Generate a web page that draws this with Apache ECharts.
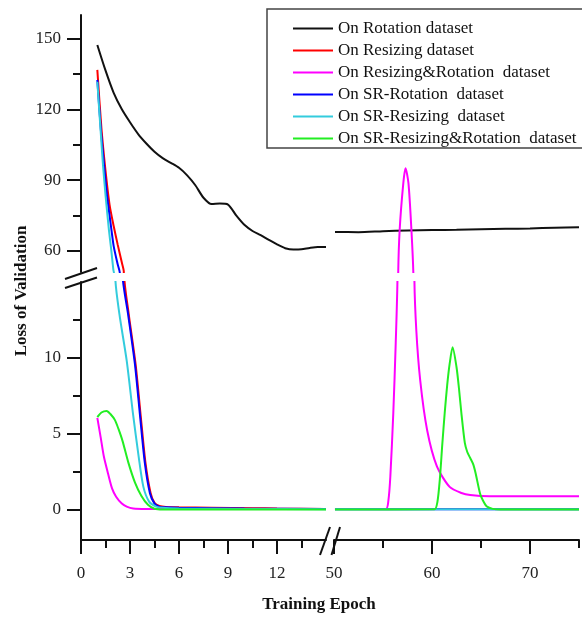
<!DOCTYPE html>
<html>
<head>
<meta charset="utf-8">
<script src="https://cdn.jsdelivr.net/npm/echarts@6/dist/echarts.min.js"></script>
<style>
html,body{margin:0;padding:0;background:#fff;}
#chart{width:582px;height:618px;}
</style>
</head>
<body>
<div id="chart"></div>
<script>
// ---- Data (epoch, validation loss) ----
const seriesNames = [
  'On Rotation dataset',
  'On Resizing dataset',
  'On Resizing&Rotation  dataset',
  'On SR-Rotation  dataset',
  'On SR-Resizing  dataset',
  'On SR-Resizing&Rotation  dataset'
];

const rotationLeft = [[1,147.3],[1.5,136.5],[2,127],[2.5,120],[3,114.5],[3.5,109.5],[4,105.5],[4.5,102],[5,99.3],[5.5,97.3],[6,95.2],[6.5,92],[7,87.8],[7.5,82.5],[8,79.8],[8.5,80],[9,79.6],[9.5,75],[10,71],[10.5,68.4],[11,66.6],[11.5,64.6],[12,62.7],[12.5,61.1],[13,60.5],[13.5,60.6],[14,61.2],[14.5,61.6],[15,61.6]];
const rotationRight = [[50.1,68],[52.5,67.9],[55,68.3],[57.5,68.6],[60,68.8],[62.5,68.9],[65,69.1],[67.5,69.3],[70,69.5],[72.5,69.8],[75,70]];

const resizingLeft = [[1,136.7],[1.25,112],[1.5,94],[1.75,79.5],[2,70.5],[2.25,62.5],[2.5,55],[2.62,51.2],[2.64,15.5],[2.92,12.9],[3.34,9.6],[3.64,6.35],[3.95,3.06],[4.26,1.1],[4.5,0.45],[4.8,0.25],[5.2,0.18],[6,0.15],[8,0.13],[10.5,0.1],[12,0.07],[15,0.05]];
const resizingRight = [[50.1,0.05],[75,0.05]];

const resRotLeft = [[1,6.05],[1.2,4.8],[1.4,3.5],[1.65,2.4],[1.9,1.4],[2.15,0.85],[2.5,0.4],[2.8,0.2],[3.2,0.08],[4,0.05],[15,0.04]];
const resRotRight = [[50.1,0.04],[55.3,0.05],[55.55,0.6],[55.75,2.2],[56.05,6.35],[56.3,11],[56.48,15.5],[56.55,50],[56.7,68.8],[57.07,88.6],[57.3,95],[57.6,88.6],[57.9,68.8],[58.1,50],[58.2,15.5],[58.4,11.8],[58.8,8.5],[59.5,5.25],[60.5,2.85],[61.8,1.5],[63.0,1.1],[63.9,0.96],[65.9,0.88],[75,0.88]];

const srRotationLeft = [[1,132.5],[1.22,111],[1.5,90],[1.6,83],[1.88,68],[2.0,62],[2.23,54.7],[2.38,50.5],[2.54,15.5],[2.88,12.9],[3.3,9.6],[3.6,6.35],[3.91,3.06],[4.22,1.08],[4.5,0.4],[4.8,0.2],[5.2,0.15],[6,0.12],[10,0.08],[15,0.05]];
const srRotationRight = [[50.1,0.03],[75,0.03]];

const srResizingLeft = [[1,131.7],[1.2,111],[1.35,96],[1.51,83],[1.71,68.8],[1.85,60.5],[1.98,52],[2.02,50.5],[2.1,15.3],[2.35,12.9],[2.8,9.8],[3.18,6.35],[3.53,3.5],[3.82,1.5],[4.17,0.53],[4.6,0.2],[5,0.12],[6,0.08],[10,0.05],[15,0.03]];
const srResizingRight = [[50.1,0.02],[75,0.02]];

const srResRotLeft = [[1,6.1],[1.25,6.4],[1.57,6.5],[1.8,6.3],[2.08,5.9],[2.3,5.3],[2.55,4.5],[2.9,3.1],[3.3,1.8],[3.7,0.9],[4.1,0.32],[4.5,0.06],[5,0.01],[15,0.01]];
const srResRotRight = [[50.1,0.01],[60.25,0.02],[60.55,0.5],[60.8,2],[61.05,4.3],[61.3,6.4],[61.55,8.2],[61.8,9.6],[62.1,10.7],[62.5,9.4],[62.75,8],[63.0,6.35],[63.35,4.4],[63.6,3.8],[63.9,3.4],[64.2,3.0],[64.45,2.4],[64.9,1.07],[65.2,0.6],[65.6,0.2],[66.2,0.05],[67,0.01],[75,0.01]];

const seriesColors = ['#111111','#ff0000','#ff00ff','#0000ff','#33ccdd','#22ee22'];
const leftData = [rotationLeft, resizingLeft, resRotLeft, srRotationLeft, srResizingLeft, srResRotLeft];
const rightData = [rotationRight, resizingRight, resRotRight, srRotationRight, srResizingRight, srResRotRight];

// tick labels
const xLeftTicks = [0,3,6,9,12];
const xLeftMinor = [1.5,4.5,7.5,10.5,13.5];
const xRightTicks = [50,60,70];
const xRightMinor = [55,65,75];
const yTopTicks = [60,90,120,150];
const yTopMinor = [75,105,135];
const yBottomTicks = [0,5,10];
const yBottomMinor = [2.5,7.5,12.5];

// ---- Chart ----
const FONT = 'Liberation Serif';
const lbl = {fontFamily: FONT, fontSize: 17, color: '#222'};
const axLine = {show: true, onZero: false, lineStyle: {color: '#111', width: 2}};

function majorAxis(gridIndex, min, max, ticks, isY) {
  return {
    type: 'value', gridIndex, min, max,
    position: isY ? 'left' : 'bottom',
    splitLine: {show: false},
    axisLine: axLine,
    axisTick: {show: true, customValues: ticks, length: 14, lineStyle: {color: '#111', width: 2}},
    axisLabel: Object.assign({show: true, customValues: ticks, margin: isY ? 20 : 25}, lbl)
  };
}
function minorAxis(gridIndex, min, max, ticks, pos) {
  return {
    type: 'value', gridIndex, min, max, position: pos,
    splitLine: {show: false},
    axisLine: {show: false, onZero: false},
    axisTick: {show: true, customValues: ticks, length: 8, lineStyle: {color: '#111', width: 2}},
    axisLabel: {show: false}
  };
}
function hiddenAxis(gridIndex, min, max) {
  return {type: 'value', gridIndex, min, max, show: false, splitLine: {show: false}, axisLine: {onZero: false}};
}

const grids = [
  {left: 81, top: 15, width: 245, height: 257},
  {left: 334, top: 15, width: 245, height: 257},
  {left: 81, top: 282, width: 245, height: 258},
  {left: 334, top: 282, width: 245, height: 258}
];

const xAxes = [
  hiddenAxis(0, 0, 15),
  hiddenAxis(1, 50, 75),
  majorAxis(2, 0, 15, xLeftTicks, false),
  majorAxis(3, 50, 75, xRightTicks, false),
  minorAxis(2, 0, 15, xLeftMinor, 'bottom'),
  minorAxis(3, 50, 75, xRightMinor, 'bottom')
];
const yAxes = [
  majorAxis(0, 51, 160, yTopTicks, true),
  hiddenAxis(1, 51, 160),
  majorAxis(2, -2, 15, yBottomTicks, true),
  hiddenAxis(3, -2, 15),
  minorAxis(0, 51, 160, yTopMinor, 'left'),
  minorAxis(2, -2, 15, yBottomMinor, 'left')
];

const series = [];
seriesNames.forEach((name, k) => {
  for (let g = 0; g < 4; g++) {
    series.push({
      type: 'line', name,
      xAxisIndex: g, yAxisIndex: g,
      data: (g % 2 === 0) ? leftData[k] : rightData[k],
      symbol: 'none', smooth: 0.25,
      clip: true,
      lineStyle: {color: seriesColors[k], width: 2},
      itemStyle: {color: seriesColors[k]},
      emphasis: {disabled: true}
    });
  }
});

const brk = {stroke: '#111', lineWidth: 2};
const option = {
  animation: false,
  backgroundColor: '#fff',
  grid: grids,
  xAxis: xAxes,
  yAxis: yAxes,
  legend: {
    data: seriesNames,
    orient: 'vertical',
    left: 267, top: 9,
    padding: [11, 20, 1, 26],
    icon: 'rect',
    itemWidth: 40, itemHeight: 2, itemGap: 5,
    borderWidth: 0,
    textStyle: {fontFamily: FONT, fontSize: 17, color: '#111', lineHeight: 17},
    selectedMode: false
  },
  series,
  graphic: [
    {type: 'rect', shape: {x: 267, y: 9, width: 340, height: 139}, style: {fill: 'none', stroke: '#444', lineWidth: 1.5}, z: 10, silent: true},
    {type: 'line', shape: {x1: 65, y1: 279, x2: 97, y2: 268}, style: brk, z: 10},
    {type: 'line', shape: {x1: 65, y1: 288, x2: 97, y2: 277.5}, style: brk, z: 10},
    {type: 'line', shape: {x1: 320, y1: 555, x2: 330, y2: 527}, style: brk, z: 10},
    {type: 'line', shape: {x1: 331.5, y1: 555, x2: 340, y2: 527}, style: brk, z: 10},
    {type: 'text', x: 22, y: 291, rotation: Math.PI / 2,
     style: {text: 'Loss of Validation', font: 'bold 17px "Liberation Serif"', fill: '#111',
             textAlign: 'center', textVerticalAlign: 'middle', align: 'center', verticalAlign: 'middle'}},
    {type: 'text', x: 319, y: 605,
     style: {text: 'Training Epoch', font: 'bold 17px "Liberation Serif"', fill: '#111',
             textAlign: 'center', textVerticalAlign: 'middle', align: 'center', verticalAlign: 'middle'}}
  ]
};

const chart = echarts.init(document.getElementById('chart'), null, {renderer: 'canvas'});
chart.setOption(option);
</script>
</body>
</html>
